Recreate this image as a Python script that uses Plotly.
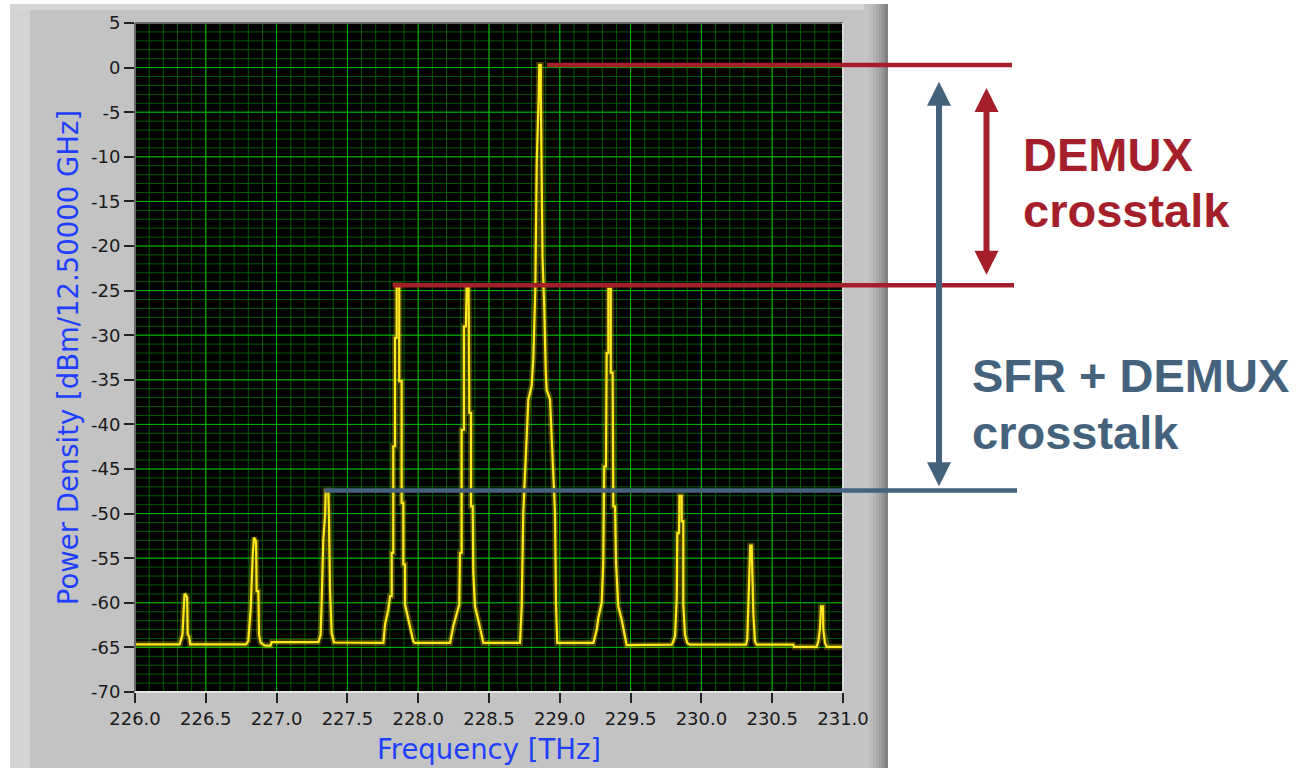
import plotly.graph_objects as go

# ---- spectrum trace: vertices of the measured power density curve ----
freq_thz = [
    226.000, 226.315, 226.335, 226.345, 226.350, 226.362, 226.368, 226.372, 226.382, 226.390,
    226.784, 226.800, 226.817, 226.831, 226.840, 226.855, 226.859, 226.871, 226.876, 226.888,
    226.918, 226.958, 226.965,
    227.295, 227.311, 227.318, 227.330, 227.342, 227.347, 227.365, 227.370, 227.377, 227.389, 227.405,
    227.754, 227.766, 227.789, 227.801, 227.813, 227.813, 227.824, 227.824, 227.836, 227.836,
    227.848, 227.848, 227.866, 227.866, 227.883, 227.883, 227.895, 227.895, 227.907, 227.907,
    227.930, 227.965, 227.975,
    228.225, 228.248, 228.272, 228.290, 228.295, 228.307, 228.307, 228.323, 228.323, 228.337,
    228.342, 228.356, 228.361, 228.373, 228.373, 228.385, 228.389, 228.401, 228.424, 228.460,
    228.719, 228.731, 228.742, 228.759, 228.778, 228.801, 228.813, 228.827, 228.837, 228.851,
    228.855, 228.866, 228.866, 228.878, 228.890, 228.901, 228.907, 228.931, 228.950, 228.966,
    228.973, 228.982,
    229.237, 229.261, 229.272, 229.296, 229.307, 229.314, 229.326, 229.331, 229.343, 229.343,
    229.360, 229.360, 229.373, 229.378, 229.390, 229.397, 229.413, 229.437, 229.472,
    229.790, 229.800, 229.814, 229.826, 229.830, 229.842, 229.845, 229.861, 229.861, 229.872,
    229.872, 229.884, 229.900, 229.919,
    230.315, 230.324, 230.331, 230.338, 230.345, 230.355, 230.357, 230.367, 230.378, 230.390,
    230.649, 230.655, 230.814, 230.826, 230.838, 230.845, 230.859, 230.861, 230.873, 230.885, 231.000,
]
power_dbm = [
    -64.65, -64.65, -63.6, -60.8, -59.0, -59.2, -59.4, -63.5, -63.8, -64.65,
    -64.65, -64.3, -60.7, -54.8, -52.7, -53.1, -58.7, -58.7, -63.6, -64.5,
    -64.8, -64.8, -64.4,
    -64.4, -63.6, -60.0, -52.9, -50.3, -47.4, -47.4, -50.5, -58.5, -63.4, -64.45,
    -64.5, -62.4, -60.75, -59.25, -59.25, -54.4, -54.4, -42.45, -42.45, -30.3,
    -30.3, -24.4, -24.4, -35.15, -35.15, -48.8, -48.8, -55.7, -55.7, -60.2,
    -61.7, -64.3, -64.5,
    -64.5, -62.6, -61.1, -60.2, -54.4, -54.4, -40.6, -40.6, -29.0, -29.0,
    -24.7, -24.7, -38.7, -38.7, -49.2, -49.2, -56.6, -60.4, -61.9, -64.5,
    -64.5, -60.4, -49.9, -43.2, -37.2, -35.7, -32.7, -24.9, -10.7, -3.2,
    0.3, 0.3, -3.2, -21.3, -26.75, -34.2, -36.1, -37.2, -43.2, -49.9,
    -60.0, -64.5,
    -64.5, -63.0, -61.7, -60.0, -55.5, -44.7, -44.7, -32.0, -32.0, -24.8,
    -24.8, -34.2, -34.2, -49.2, -49.2, -55.5, -60.4, -61.9, -64.75,
    -64.7, -64.4, -63.7, -59.3, -52.2, -52.2, -48.0, -48.0, -50.85, -50.85,
    -60.2, -63.55, -64.5, -64.7,
    -64.7, -64.1, -60.0, -54.8, -53.6, -53.6, -55.1, -61.3, -64.3, -64.7,
    -64.7, -64.93, -64.93, -64.3, -62.8, -60.4, -60.4, -63.0, -64.5, -64.93, -64.93,
]
assert len(freq_thz) == len(power_dbm)

# ---- axes ----
x_range = [226.0, 231.0]
y_range = [-70.0, 5.0]
x_ticks = [226.0 + 0.5 * i for i in range(11)]
y_ticks = list(range(-70, 6, 5))
x_minor_ticks = [round(226.0 + 0.1 * i, 1) for i in range(51)]
y_minor_ticks = list(range(-70, 6))

# ---- crosstalk reference levels (peak of channel, start frequency of marker line) ----
level_main_dbm = 0.3          # selected channel
level_demux_dbm = -24.4       # adjacent channel after DEMUX
level_sfr_dbm = -47.4         # next channel after SFR + DEMUX
level_start_thz = [228.91, 227.82, 227.34]

RED = "#A51F2B"
BLUE = "#45627D"
AXIS_BLUE = "#1F3FFF"
GRID_MAJOR = "#00B400"
GRID_MINOR = "#005A00"

W, H = 1298, 769
ML, MR, MT, MB = 135, 455, 23, 77
PW, PH = W - ML - MR, H - MT - MB


def px_x(px):
    return (px - ML) / PW


def px_y(py):
    return (H - MB - py) / PH


def f_paper(f):
    return (f - x_range[0]) / (x_range[1] - x_range[0])


fig = go.Figure()

# minor grid drawn as thin lines on hidden overlay axes
fig.add_trace(go.Scatter(
    x=[v for f in x_minor_ticks for v in (f, f, None)],
    y=[v for _ in x_minor_ticks for v in (y_range[0], y_range[1], None)],
    mode="lines", line=dict(color=GRID_MINOR, width=1),
    hoverinfo="skip", showlegend=False,
))
fig.add_trace(go.Scatter(
    x=[v for _ in y_minor_ticks for v in (x_range[0], x_range[1], None)],
    y=[v for d in y_minor_ticks for v in (d, d, None)],
    mode="lines", line=dict(color=GRID_MINOR, width=1),
    hoverinfo="skip", showlegend=False,
))
# major grid
fig.add_trace(go.Scatter(
    x=[v for f in x_ticks for v in (f, f, None)],
    y=[v for _ in x_ticks for v in (y_range[0], y_range[1], None)],
    mode="lines", line=dict(color=GRID_MAJOR, width=1),
    hoverinfo="skip", showlegend=False,
))
fig.add_trace(go.Scatter(
    x=[v for _ in y_ticks for v in (x_range[0], x_range[1], None)],
    y=[v for d in y_ticks for v in (d, d, None)],
    mode="lines", line=dict(color=GRID_MAJOR, width=1),
    hoverinfo="skip", showlegend=False,
))

# soft glow under the trace
fig.add_trace(go.Scatter(
    x=freq_thz, y=power_dbm, mode="lines",
    line=dict(color="rgba(255,225,0,0.28)", width=6),
    hoverinfo="skip", showlegend=False,
))
fig.add_trace(go.Scatter(
    x=freq_thz, y=power_dbm, mode="lines",
    line=dict(color="#FFE81F", width=2.2),
    showlegend=False,
))

shapes = []
# instrument panel
shapes.append(dict(type="rect", xref="paper", yref="paper", layer="below",
                   x0=px_x(10), x1=px_x(887), y0=px_y(768), y1=px_y(4),
                   fillcolor="#C3C3C3", line=dict(width=0)))
shapes.append(dict(type="rect", xref="paper", yref="paper", layer="below",
                   x0=px_x(10), x1=px_x(30), y0=px_y(768), y1=px_y(4),
                   fillcolor="#D3D3D3", line=dict(width=0)))
shapes.append(dict(type="rect", xref="paper", yref="paper", layer="below",
                   x0=px_x(10), x1=px_x(887), y0=px_y(10), y1=px_y(4),
                   fillcolor="#D6D6D6", line=dict(width=0)))
shade = ["#C6C6C6", "#C2C2C2", "#BCBCBC", "#B4B4B4", "#AAAAAA", "#9E9E9E", "#909090", "#808080"]
for i, c in enumerate(shade):
    shapes.append(dict(type="rect", xref="paper", yref="paper", layer="below",
                       x0=px_x(864 + i * 3), x1=px_x(867 + i * 3), y0=px_y(768), y1=px_y(4),
                       fillcolor=c, line=dict(width=0)))
# plot area
shapes.append(dict(type="rect", xref="paper", yref="paper", layer="below",
                   x0=0, x1=1, y0=0, y1=1, fillcolor="#000000", line=dict(width=0)))
# sunken frame of the plot area
shapes.append(dict(type="line", xref="paper", yref="paper", x0=0, x1=0, y0=0, y1=1,
                   line=dict(color="#6A6A6A", width=2)))
shapes.append(dict(type="line", xref="paper", yref="paper", x0=0, x1=1, y0=1, y1=1,
                   line=dict(color="#6A6A6A", width=2)))
shapes.append(dict(type="line", xref="paper", yref="paper", x0=0, x1=1, y0=0, y1=0,
                   line=dict(color="#E4E4E4", width=2)))
shapes.append(dict(type="line", xref="paper", yref="paper", x0=1, x1=1, y0=0, y1=1,
                   line=dict(color="#D8D8D8", width=2)))

# crosstalk level markers
for lvl, f0, col, end_px in [
    (level_main_dbm, level_start_thz[0], RED, 1012),
    (level_demux_dbm, level_start_thz[1], RED, 1014),
    (level_sfr_dbm, level_start_thz[2], BLUE, 1017),
]:
    shapes.append(dict(type="line", xref="paper", yref="y",
                       x0=f_paper(f0), x1=px_x(end_px), y0=lvl, y1=lvl,
                       line=dict(color=col, width=4.5)))

annotations = []
arrow_common = dict(text="", showarrow=True, arrowhead=2, startarrowhead=2,
                    arrowside="end+start", arrowwidth=6, arrowsize=0.8, startarrowsize=0.8,
                    xref="paper", yref="y", axref="pixel", ayref="y", ax=0)
annotations.append(dict(arrow_common, x=px_x(939), y=level_main_dbm - 1.9,
                        ay=level_sfr_dbm + 0.3, arrowcolor=BLUE))
annotations.append(dict(arrow_common, x=px_x(986.5), y=level_main_dbm - 2.6,
                        ay=level_demux_dbm + 1.0, arrowcolor=RED))

label_font = "Liberation Sans, Arial, sans-serif"
for txt, px, py, col in [
    ("DEMUX", 1021, 154, RED),
    ("crosstalk", 1021, 210, RED),
    ("SFR + DEMUX", 970, 375, BLUE),
    ("crosstalk", 970, 432, BLUE),
]:
    annotations.append(dict(text=f"<b>{txt}</b>", xref="paper", yref="paper",
                            x=px_x(px), y=px_y(py), xanchor="left", yanchor="middle",
                            showarrow=False, font=dict(family=label_font, size=47, color=col)))

tick_font = dict(family="DejaVu Sans, sans-serif", size=18, color="#1A1A1A")
title_font = dict(family="DejaVu Sans, sans-serif", size=27.5, color=AXIS_BLUE)

fig.update_layout(
    template="none",
    width=W, height=H,
    margin=dict(l=ML, r=MR, t=MT, b=MB, autoexpand=False),
    paper_bgcolor="#FFFFFF",
    plot_bgcolor="#000000",
    shapes=shapes,
    annotations=annotations,
    xaxis=dict(
        range=x_range, tickvals=x_ticks, ticktext=[f"{v:.1f}" for v in x_ticks],
        showgrid=False,
        ticks="outside", ticklen=10, tickwidth=1.5, tickcolor="#222222",
        tickfont=tick_font, zeroline=False, showline=False,
        title=dict(text="Frequency [THz]", standoff=12, font=title_font),
        automargin=False,
    ),
    yaxis=dict(
        range=y_range, tickvals=y_ticks, ticktext=[str(v) for v in y_ticks],
        showgrid=False,
        ticks="outside", ticklen=10, tickwidth=1.5, tickcolor="#222222",
        tickfont=tick_font, zeroline=False, showline=False,
        title=dict(text="Power Density [dBm/12.50000 GHz]", standoff=4, font=title_font),
        automargin=False,
    ),
)

fig.write_html("out.html")
